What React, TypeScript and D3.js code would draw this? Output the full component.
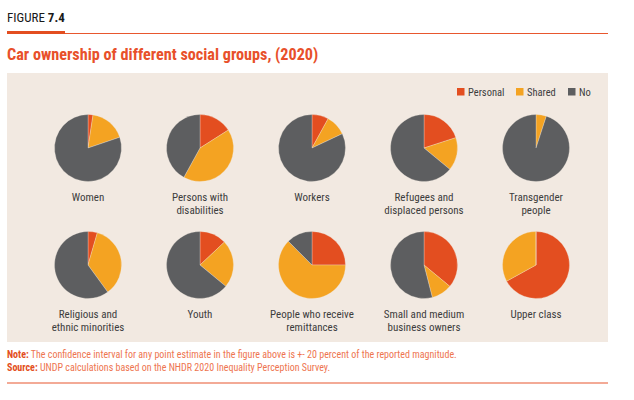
import React from "react";
import * as d3 from "d3";

const groups = [
  "Women",
  "Persons with|disabilities",
  "Workers",
  "Refugees and|displaced persons",
  "Transgender|people",
  "Religious and|ethnic minorities",
  "Youth",
  "People who receive|remittances",
  "Small and medium|business owners",
  "Upper class",
];
const seriesNames = ["Personal", "Shared", "No"];
const personal = [2.4, 16, 8, 20, 0, 4.5, 13, 25, 36, 67];
const shared = [17.4, 42, 10, 16, 5, 35.5, 23, 62.5, 10, 33];
const noCar = [80.2, 42, 82, 64, 95, 60, 64, 12.5, 54, 0];
const colors = ["#e34e20", "#f4a322", "#5d5e60"];

const FONT = "'Roboto Condensed', 'Liberation Sans Narrow', 'DejaVu Sans Condensed', Roboto, sans-serif";

export default function App() {
  const W = 634, H = 400;
  const xScale = d3.scalePoint<number>().domain([0, 1, 2, 3, 4]).range([88, 536]);
  const yScale = d3.scalePoint<number>().domain([0, 1]).range([148, 265]);
  const color = d3.scaleOrdinal<string, string>().domain(seriesNames).range(colors);
  const pie = d3.pie<number>().sort(null).value((d) => d);
  const arc = d3.arc<d3.PieArcDatum<number>>().innerRadius(0).outerRadius(33.5);
  const labelOffset = 53;

  return (
    <svg width={W} height={H} style={{ display: "block", position: "absolute", left: 0, top: 0 }} fontFamily={FONT}>
      <rect x={0} y={0} width={W} height={H} fill="#ffffff" />
      {/* header */}
      <text x={7} y={22} fontSize={13} fill="#1a1a1a">
        FIGURE <tspan fontWeight="bold">7.4</tspan>
      </text>
      <rect x={7} y={31} width={58} height={3} fill="#e34e20" />
      <line x1={65} x2={608} y1={33.5} y2={33.5} stroke="#e8572e" strokeWidth={1} />
      <text x={7} y={60} fontSize={16.2} fontWeight="bold" fill="#e8502a">
        Car ownership of different social groups, (2020)
      </text>
      {/* panel */}
      <rect x={7} y={73} width={601} height={269} fill="#f2e9e1" />
      {/* legend */}
      {seriesNames.map((s, i) => {
        const lx = [457, 516, 568][i];
        return (
          <g key={s}>
            <rect x={lx} y={88} width={7.5} height={7.5} fill={color(s)} />
            <text x={lx + 11} y={95.5} fontSize={10.5} fill="#3d3d3d">{s}</text>
          </g>
        );
      })}
      {/* pies */}
      {groups.map((g, i) => {
        const col = i % 5;
        const row = Math.floor(i / 5);
        const cx = xScale(col)!;
        const cy = yScale(row)!;
        const arcs = pie([personal[i], shared[i], noCar[i]]);
        const lines = g.split("|");
        return (
          <g key={g}>
            <g transform={`translate(${cx},${cy})`}>
              {arcs.map((a, j) => (
                <path key={j} d={arc(a) || ""} fill={colors[j]} stroke="#f2e9e1" strokeWidth={0.3} />
              ))}
            </g>
            {lines.map((l, k) => (
              <text key={k} x={cx} y={cy + labelOffset + k * 12.5} textAnchor="middle" fontSize={11} fill="#3d3d3d">
                {l}
              </text>
            ))}
          </g>
        );
      })}
      {/* notes */}
      <text x={7} y={358} fontSize={10} fill="#ee7550">
        <tspan fontWeight="bold" fill="#e34e20">Note:</tspan> The confidence interval for any point estimate in the figure above is +- 20 percent of the reported magnitude.
      </text>
      <text x={7} y={371} fontSize={10} fill="#ee7550">
        <tspan fontWeight="bold" fill="#e34e20">Source:</tspan> UNDP calculations based on the NHDR 2020 Inequality Perception Survey.
      </text>
      <line x1={7} x2={608} y1={383} y2={383} stroke="#e8572e" strokeWidth={1.2} />
    </svg>
  );
}
